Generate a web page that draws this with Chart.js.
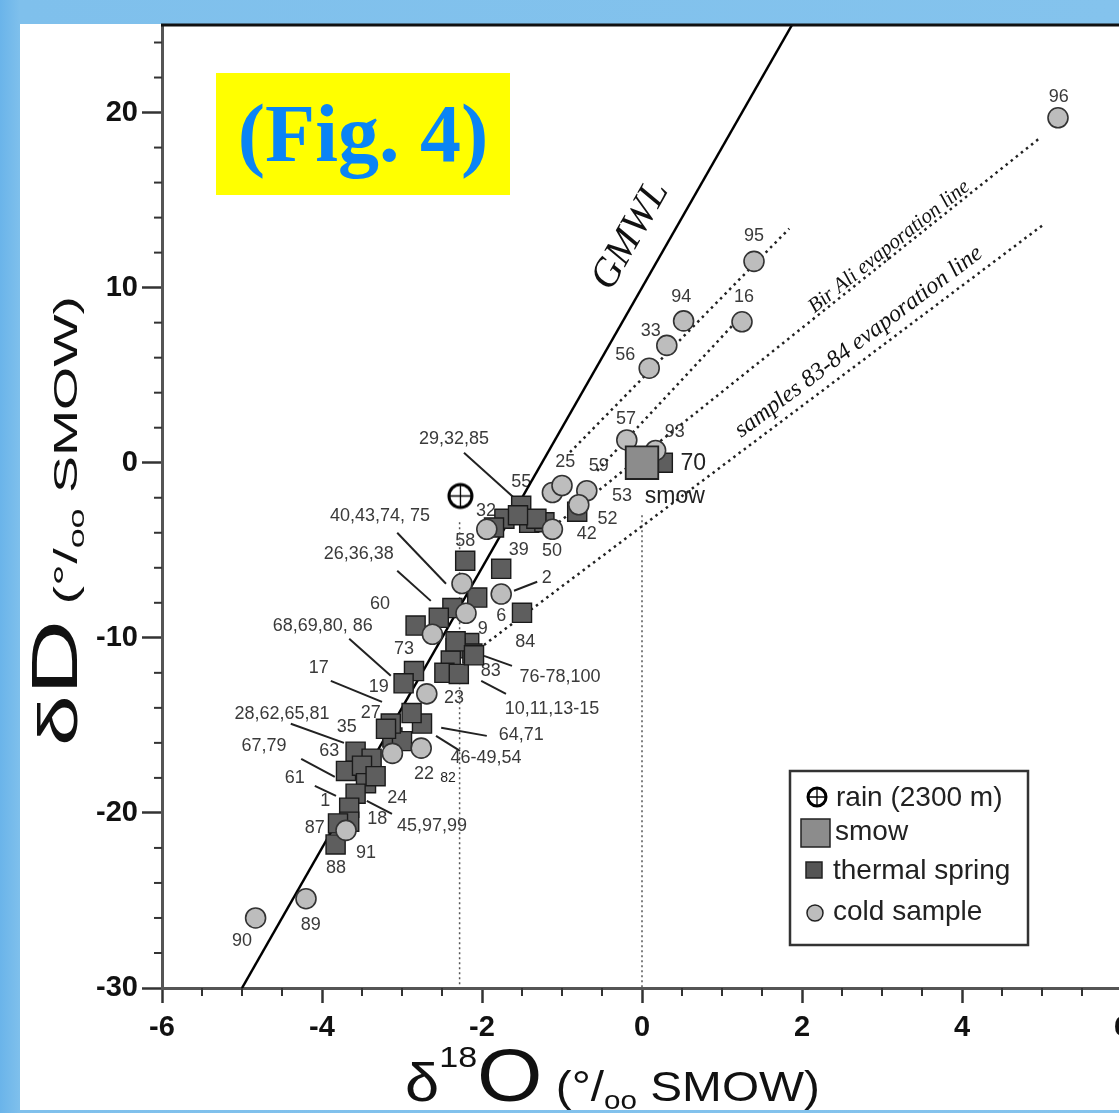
<!DOCTYPE html>
<html>
<head>
<meta charset="utf-8">
<script src="https://cdn.jsdelivr.net/npm/chart.js@4.4.1/dist/chart.umd.min.js"></script>
<style>
  html, body { margin: 0; padding: 0; overflow: hidden; }
  body { width: 1119px; height: 1113px; position: relative;
         background: linear-gradient(to right, #6ab4ea 0px, #7fc0ec 20px, #84c3ed 100%); }
  #panel { position: absolute; left: 20px; top: 24px; width: 1110px; height: 1086px; background: #fff; }
  #chart { position: absolute; left: 0; top: 0; }
  #fig { position: absolute; left: 216px; top: 73px; width: 294px; height: 122px; background: #ffff00;
         color: #0a84f5; font: bold 82px "Liberation Serif", serif; display: flex;
         align-items: center; justify-content: center; }
</style>
</head>
<body>
<div id="panel"></div>
<canvas id="chart" width="1125" height="1113"></canvas>
<div id="fig">(Fig. 4)</div>
<script>
// tick labels
const xTicks = [-6, -4, -2, 0, 2, 4, 6];
const yTicks = [-30, -20, -10, 0, 10, 20];

// cold samples (d18O, dD)
const coldO18 = [5.2, 1.4, 0.52, 1.25, 0.31, 0.09, -0.19, 0.17, -1.12, -1.0, -0.69, -0.79, -1.12, -1.94,
  -2.25, -1.76, -2.2, -2.62, -2.69, -3.12, -2.76, -3.7, -4.2, -4.83];
const coldD = [19.7, 11.5, 8.1, 8.05, 6.7, 5.4, 1.3, 0.7, -1.7, -1.3, -1.6, -2.4, -3.8, -3.8,
  -6.9, -7.5, -8.6, -9.8, -13.2, -16.6, -16.3, -21.0, -24.9, -26.0];

// thermal springs
const thermalO18 = [0.26, -0.81, -1.51, -1.72, -1.41, -1.22, -1.32, -1.55, -1.85, -2.21, -1.76, -2.06, -1.5,
  -2.37, -2.54, -2.83, -2.16, -2.33, -2.39, -2.47, -2.29, -2.12, -2.85, -2.98, -2.75, -2.88, -3.12, -3.0,
  -3.14, -3.2, -3.58, -3.38, -3.7, -3.5, -3.45, -3.58, -3.66, -3.33, -3.66, -3.8, -3.83, -2.33, -2.1];
const thermalD = [0, -2.8, -2.46, -3.2, -3.43, -3.4, -3.2, -3.0, -3.7, -5.6, -6.06, -7.7, -8.57,
  -8.3, -8.86, -9.3, -10.3, -10.6, -11.3, -12.0, -12.06, -10.9, -11.9, -12.6, -14.9, -14.3, -15.7, -15.9,
  -14.9, -15.2, -16.5, -16.9, -17.6, -17.3, -18.3, -18.9, -19.7, -17.9, -20.5, -20.6, -21.8, -10.2, -11.0];

const smowO18 = [0], smowD = [0];
const rainO18 = [-2.27], rainD = [-1.9];

// lines
const gmwlO18 = [-5, 1.875], gmwlD = [-30, 25];
const evapAO18 = [-0.9, 1.84], evapAD = [0.6, 13.37];
const evapBO18 = [-0.56, 1.21], evapBD = [-0.46, 8.23];
const birAliO18 = [-1.04, 4.96], birAliD = [-3.4, 18.5];
const s8384O18 = [-2.04, 5.0], s8384D = [-10.63, 13.54];
const rainDropO18 = [-2.28, -2.28], rainDropD = [-3.4, -30];
const smowDropO18 = [0, 0], smowDropD = [-3, -30];

// sample labels [text, d18O, dD]
const sampleLabels = [
  ['96', 5.21, 20.86], ['95', 1.4, 12.97], ['94', 0.49, 9.49], ['16', 1.275, 9.49], ['33', 0.11, 7.54],
  ['56', -0.21, 6.17], ['57', -0.2, 2.51], ['93', 0.41, 1.77], ['25', -0.96, 0.06], ['59', -0.54, -0.17],
  ['53', -0.25, -1.89], ['52', -0.43, -3.2], ['42', -0.69, -4.06], ['55', -1.51, -1.09], ['32', -1.95, -2.74],
  ['29,32,85', -2.35, 1.37], ['40,43,74, 75', -3.275, -3.03], ['26,36,38', -3.54, -5.2], ['58', -2.21, -4.46],
  ['39', -1.54, -4.97], ['50', -1.125, -5.03], ['2', -1.19, -6.57], ['6', -1.76, -8.74], ['9', -1.99, -9.49],
  ['84', -1.46, -10.23], ['60', -3.275, -8.06], ['73', -2.975, -10.63], ['68,69,80, 86', -3.99, -9.31],
  ['83', -1.89, -11.89], ['76-78,100', -1.025, -12.23], ['10,11,13-15', -1.125, -14.06], ['17', -4.04, -11.71],
  ['19', -3.29, -12.8], ['27', -3.39, -14.29], ['23', -2.35, -13.43], ['28,62,65,81', -4.5, -14.34],
  ['35', -3.69, -15.09], ['64,71', -1.51, -15.54], ['63', -3.91, -16.46], ['46-49,54', -1.95, -16.86],
  ['67,79', -4.725, -16.17], ['22', -2.725, -17.77], ['61', -4.34, -18.0], ['1', -3.96, -19.31],
  ['24', -3.06, -19.14], ['18', -3.31, -20.34], ['45,97,99', -2.625, -20.74], ['87', -4.09, -20.86],
  ['91', -3.45, -22.29], ['88', -3.825, -23.14], ['89', -4.14, -26.4], ['90', -5.0, -27.31]
];
const bigLabels = [['70', 0.64, -0.06], ['smow', 0.41, -1.94]];
const smallLabels = [['82', -2.425, -18.0]];
// leader lines [x1, y1, x2, y2]
const leaders = [
  [-2.225, 0.57, -1.6, -2.0], [-3.06, -4.0, -2.45, -6.91], [-3.06, -6.17, -2.64, -7.89],
  [-1.6, -7.31, -1.31, -6.8], [-3.66, -10.06, -3.14, -12.17], [-1.975, -11.03, -1.625, -11.6],
  [-2.01, -12.46, -1.7, -13.2], [-3.89, -12.46, -3.25, -13.66], [-4.39, -14.91, -3.725, -16.0],
  [-2.51, -15.14, -1.94, -15.6], [-2.575, -15.6, -2.275, -16.46], [-4.26, -16.91, -3.84, -17.94],
  [-4.09, -18.46, -3.825, -19.03], [-3.44, -19.31, -3.125, -20.06]
];

const SANS = '"Liberation Sans", Arial, Helvetica, sans-serif';
const SERIF = '"Liberation Serif", "Times New Roman", serif';

const pts = (xs, ys) => xs.map((x, i) => ({ x: x, y: ys[i] }));

function rainIcon(r) {
  const s = Math.ceil(r * 2 + 6);
  const c = document.createElement('canvas');
  c.width = s; c.height = s;
  const g = c.getContext('2d');
  const m = s / 2;
  g.fillStyle = '#fff'; g.strokeStyle = '#000'; g.lineWidth = 3;
  g.beginPath(); g.arc(m, m, r, 0, Math.PI * 2); g.fill(); g.stroke();
  g.lineWidth = 1.3;
  g.beginPath(); g.moveTo(m - r, m); g.lineTo(m + r, m); g.moveTo(m, m - r); g.lineTo(m, m + r); g.stroke();
  return c;
}

function lineSet(xs, ys, color, width, dash, order) {
  return { data: pts(xs, ys), showLine: true, pointRadius: 0, borderColor: color, borderWidth: width,
    borderDash: dash, order: order, fill: false };
}

// draws text made of several parts with different sizes
function drawRich(ctx, x, y, rot, parts, targetLen) {
  ctx.save();
  ctx.translate(x, y);
  ctx.rotate(rot);
  let total = 0;
  parts.forEach(p => { ctx.font = p.font; total += ctx.measureText(p.t).width; });
  const k = targetLen ? targetLen / total : 1;
  ctx.scale(k, 1);
  ctx.textBaseline = 'alphabetic';
  ctx.textAlign = 'left';
  let cx = 0;
  parts.forEach(p => {
    ctx.font = p.font;
    ctx.fillStyle = '#111';
    ctx.fillText(p.t, cx, p.dy || 0);
    cx += ctx.measureText(p.t).width;
  });
  ctx.restore();
}

const overlay = {
  id: 'overlay',
  beforeDatasetsDraw(chart) {
    const ctx = chart.ctx, xs = chart.scales.x, ys = chart.scales.y;
    ctx.save();
    // leader lines
    ctx.strokeStyle = '#222';
    ctx.lineWidth = 2;
    leaders.forEach(l => {
      ctx.beginPath();
      ctx.moveTo(xs.getPixelForValue(l[0]), ys.getPixelForValue(l[1]));
      ctx.lineTo(xs.getPixelForValue(l[2]), ys.getPixelForValue(l[3]));
      ctx.stroke();
    });
    ctx.textAlign = 'center';
    ctx.textBaseline = 'middle';
    ctx.fillStyle = '#3a3a3a';
    ctx.font = '18px ' + SANS;
    sampleLabels.forEach(l => ctx.fillText(l[0], xs.getPixelForValue(l[1]), ys.getPixelForValue(l[2])));
    ctx.font = '23px ' + SANS;
    ctx.fillStyle = '#222';
    bigLabels.forEach(l => ctx.fillText(l[0], xs.getPixelForValue(l[1]), ys.getPixelForValue(l[2])));
    ctx.font = '14px ' + SANS;
    smallLabels.forEach(l => ctx.fillText(l[0], xs.getPixelForValue(l[1]), ys.getPixelForValue(l[2])));

    // rotated line names
    const rotText = (txt, font, lx, ly, xsArr, ysArr) => {
      const a = Math.atan2(ys.getPixelForValue(ysArr[1]) - ys.getPixelForValue(ysArr[0]),
                           xs.getPixelForValue(xsArr[1]) - xs.getPixelForValue(xsArr[0]));
      ctx.save();
      ctx.translate(xs.getPixelForValue(lx), ys.getPixelForValue(ly));
      ctx.rotate(a);
      ctx.font = font;
      ctx.fillStyle = '#111';
      ctx.fillText(txt, 0, 0);
      ctx.restore();
    };
    rotText('GMWL', 'italic 40px ' + SERIF, -0.14, 12.97, gmwlO18, gmwlD);
    rotText('Bir Ali evaporation line', 'italic 21px ' + SERIF, 3.09, 12.33, birAliO18, birAliD);
    rotText('samples 83-84 evaporation line', 'italic 24px ' + SERIF, 2.71, 6.9, s8384O18, s8384D);
    ctx.restore();
  },
  afterDraw(chart) {
    const ctx = chart.ctx, xs = chart.scales.x, ys = chart.scales.y, a = chart.chartArea;
    ctx.save();
    // top frame line
    ctx.strokeStyle = '#111';
    ctx.lineWidth = 3;
    ctx.beginPath(); ctx.moveTo(a.left - 1, a.top); ctx.lineTo(a.right + 5, a.top); ctx.stroke();
    // minor ticks
    ctx.strokeStyle = '#333';
    ctx.lineWidth = 2;
    for (let v = -30; v <= 25; v += 2) {
      if (v % 10 === 0) continue;
      const py = ys.getPixelForValue(v);
      ctx.beginPath(); ctx.moveTo(a.left - 8, py); ctx.lineTo(a.left, py); ctx.stroke();
    }
    for (let v = -6; v <= 6; v += 0.5) {
      if (v % 2 === 0) continue;
      const px = xs.getPixelForValue(v);
      ctx.beginPath(); ctx.moveTo(px, a.bottom); ctx.lineTo(px, a.bottom + 8); ctx.stroke();
    }
    // axis titles
    drawRich(ctx, 77, 746, -Math.PI / 2, [
      { t: 'δ', font: '56px ' + SANS },
      { t: 'D', font: '64px ' + SANS },
      { t: ' (°/', font: '34px ' + SANS },
      { t: 'oo', font: '22px ' + SANS, dy: 7 },
      { t: ' SMOW)', font: '34px ' + SANS }
    ], 450);
    drawRich(ctx, 405, 1101, 0, [
      { t: 'δ', font: '54px ' + SANS },
      { t: '18', font: '30px ' + SANS, dy: -34 },
      { t: 'O', font: '74px ' + SANS },
      { t: ' (°/', font: '42px ' + SANS },
      { t: 'oo', font: '26px ' + SANS, dy: 8 },
      { t: ' SMOW)', font: '42px ' + SANS }
    ], 415);

    // legend
    ctx.fillStyle = '#fff';
    ctx.fillRect(790, 771, 238, 174);
    ctx.strokeStyle = '#333';
    ctx.lineWidth = 2.5;
    ctx.strokeRect(790, 771, 238, 174);
    const ic = rainIcon(9);
    ctx.drawImage(ic, 817 - ic.width / 2, 797 - ic.height / 2);
    ctx.lineWidth = 1.5;
    ctx.strokeStyle = '#222';
    ctx.fillStyle = '#8c8c8c';
    ctx.fillRect(801, 819, 29, 28); ctx.strokeRect(801, 819, 29, 28);
    ctx.fillStyle = '#555';
    ctx.fillRect(806, 862, 16, 16); ctx.strokeRect(806, 862, 16, 16);
    ctx.fillStyle = '#bdbdbd';
    ctx.beginPath(); ctx.arc(815, 913, 8, 0, Math.PI * 2); ctx.fill(); ctx.stroke();
    ctx.fillStyle = '#222';
    ctx.font = '28px ' + SANS;
    ctx.textAlign = 'left';
    ctx.textBaseline = 'middle';
    ctx.fillText('rain (2300 m)', 836, 798);
    ctx.fillText('smow', 835, 832);
    ctx.fillText('thermal spring', 833, 871);
    ctx.fillText('cold sample', 833, 912);
    ctx.restore();
  }
};

const ctx = document.getElementById('chart').getContext('2d');
new Chart(ctx, {
  type: 'scatter',
  data: {
    datasets: [
      { label: 'smow', data: pts(smowO18, smowD), pointStyle: 'rect', pointRadius: 23,
        backgroundColor: '#8c8c8c', borderColor: '#222', borderWidth: 1.8, order: 0 },
      { label: 'rain (2300 m)', data: pts(rainO18, rainD), pointStyle: rainIcon(11.5), order: 1 },
      { label: 'cold sample', data: pts(coldO18, coldD), pointStyle: 'circle', pointRadius: 10,
        backgroundColor: '#bdbdbd', borderColor: '#333', borderWidth: 1.6, order: 2 },
      { label: 'thermal spring', data: pts(thermalO18, thermalD), pointStyle: 'rect', pointRadius: 13.5,
        backgroundColor: '#5e5e5e', borderColor: '#1a1a1a', borderWidth: 1.4, order: 3 },
      lineSet(gmwlO18, gmwlD, '#000', 2.5, [], 4),
      lineSet(evapAO18, evapAD, '#222', 2.5, [2.5, 4], 5),
      lineSet(evapBO18, evapBD, '#222', 2.5, [2.5, 4], 5),
      lineSet(birAliO18, birAliD, '#222', 2.5, [2.5, 4], 5),
      lineSet(s8384O18, s8384D, '#222', 2.5, [2.5, 4], 5),
      lineSet(rainDropO18, rainDropD, '#555', 1.5, [2, 3], 6),
      lineSet(smowDropO18, smowDropD, '#555', 1.5, [2, 3], 6)
    ]
  },
  options: {
    responsive: false,
    animation: false,
    devicePixelRatio: 1,
    layout: { autoPadding: false, padding: { left: 0, top: 25, right: 3, bottom: 0 } },
    plugins: { legend: { display: false }, tooltip: { enabled: false } },
    scales: {
      x: {
        type: 'linear', min: -6, max: 6,
        afterFit: s => { s.height = 125; s.paddingLeft = 0; s.paddingRight = 0; },
        afterBuildTicks: s => { s.ticks = xTicks.map(v => ({ value: v })); },
        grid: { drawOnChartArea: false, tickLength: 15, tickWidth: 2.5, tickColor: '#333' },
        border: { color: '#555', width: 3 },
        ticks: { color: '#111', padding: 8, maxRotation: 0, autoSkip: false,
                 font: { family: SANS, size: 29, weight: 'bold' } }
      },
      y: {
        type: 'linear', min: -30, max: 25,
        afterFit: s => { s.width = 162; s.paddingTop = 0; s.paddingBottom = 0; },
        afterBuildTicks: s => { s.ticks = yTicks.map(v => ({ value: v })); },
        grid: { drawOnChartArea: false, tickLength: 20, tickWidth: 2.5, tickColor: '#333' },
        border: { color: '#555', width: 3 },
        ticks: { color: '#111', padding: 4, autoSkip: false,
                 font: { family: SANS, size: 29, weight: 'bold' } }
      }
    }
  },
  plugins: [overlay]
});
</script>
</body>
</html>
